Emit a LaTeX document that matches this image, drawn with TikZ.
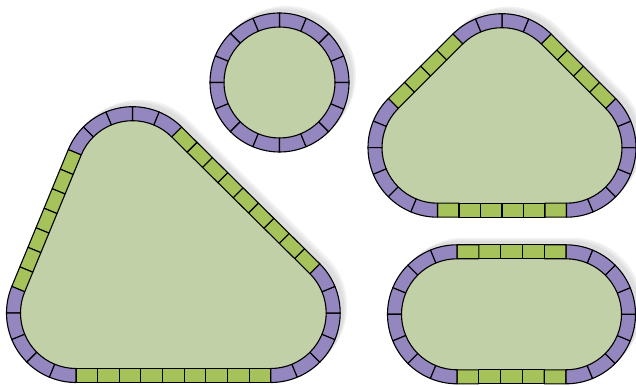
\documentclass[tikz,border=0pt]{standalone}
\usetikzlibrary{calc}

\definecolor{trackpurple}{RGB}{148,134,190}
\definecolor{trackgreen}{RGB}{166,194,90}
\definecolor{groundgreen}{RGB}{193,208,166}

% outer and inner radius of the rails
\def\outr{69.5}
\def\innr{55.5}

\tikzset{
  curvepiece/.style={fill=trackpurple, draw=black, line width=1.1pt, line join=round},
  straightpiece/.style={fill=trackgreen, draw=black, line width=1.1pt, line join=round},
  ground/.style={fill=groundgreen},
}

% curved pieces: center, start angle, number of pieces (22.5 deg each)
\newcommand{\trackbend}[3]{%
  \foreach \i in {1,...,#3}{
    \pgfmathsetmacro{\sa}{#2+22.5*(\i-1)}
    \pgfmathsetmacro{\ea}{#2+22.5*\i}
    \filldraw[curvepiece] ($(#1)+(\sa:\outr)$) arc[start angle=\sa, end angle=\ea, radius=\outr]
      -- ($(#1)+(\ea:\innr)$) arc[start angle=\ea, end angle=\sa, radius=\innr] -- cycle;
  }}

% straight pieces: from center, to center, normal angle, number of pieces
\newcommand{\trackrun}[4]{%
  \foreach \i in {1,...,#4}{
    \filldraw[straightpiece] ($(#1)!{(\i-1)/#4}!(#2)+(#3:\outr)$) -- ($(#1)!{\i/#4}!(#2)+(#3:\outr)$)
      -- ($(#1)!{\i/#4}!(#2)+(#3:\innr)$) -- ($(#1)!{(\i-1)/#4}!(#2)+(#3:\innr)$) -- cycle;
  }}

\begin{document}
\begin{tikzpicture}[x=1pt, y=1pt]
    \useasboundingbox (0,0) rectangle (636,385);

    % centers of the bends
    \coordinate (TL) at (76,72);
    \coordinate (TR) at (270.7,72);
    \coordinate (TT) at (132.5,208.8);
    \coordinate (CC) at (279.5,302.5);
    \coordinate (PL) at (437.5,237.3);
    \coordinate (PR) at (566.5,237.3);
    \coordinate (PT) at (502,301.8);
    \coordinate (OL) at (457,70.7);
    \coordinate (OR) at (566,70.7);

    % Shadows
    \foreach \d/\k in {7/5, 5.5/9, 4/13}{
      \begin{scope}[transform canvas={shift={(\d pt,\d pt)}}]
        \fill[black!\k] ($(TL)+(157.5:\outr)$) \foreach \ctr/\a/\b in {TL/157.5/270, TR/-90/45, TT/45/157.5}
          { -- ($(\ctr)+(\a:\outr)$) arc[start angle=\a, end angle=\b, radius=\outr]} -- cycle;
        \fill[black!\k] (CC) circle[radius=\outr];
        \fill[black!\k] ($(PL)+(135:\outr)$) \foreach \ctr/\a/\b in {PL/135/270, PR/-90/45, PT/45/135}
          { -- ($(\ctr)+(\a:\outr)$) arc[start angle=\a, end angle=\b, radius=\outr]} -- cycle;
        \fill[black!\k] ($(OL)+(90:\outr)$) \foreach \ctr/\a/\b in {OL/90/270, OR/-90/90}
          { -- ($(\ctr)+(\a:\outr)$) arc[start angle=\a, end angle=\b, radius=\outr]} -- cycle;
      \end{scope}
    }

    % Triangle loop
    \fill[ground] ($(TL)+(157.5:\innr)$) \foreach \ctr/\a/\b in {TL/157.5/270, TR/-90/45, TT/45/157.5}
      { -- ($(\ctr)+(\a:\innr)$) arc[start angle=\a, end angle=\b, radius=\innr]} -- cycle;
    \trackrun{TL}{TR}{-90}{9}
    \trackbend{TR}{-90}{6}
    \trackrun{TR}{TT}{45}{9}
    \trackbend{TT}{45}{5}
    \trackrun{TT}{TL}{157.5}{7}
    \trackbend{TL}{157.5}{5}

    % Circle
    \fill[ground] (CC) circle[radius=\innr];
    \trackbend{CC}{0}{16}

    % Rounded triangle
    \fill[ground] ($(PL)+(135:\innr)$) \foreach \ctr/\a/\b in {PL/135/270, PR/-90/45, PT/45/135}
      { -- ($(\ctr)+(\a:\innr)$) arc[start angle=\a, end angle=\b, radius=\innr]} -- cycle;
    \trackrun{PL}{PR}{-90}{6}
    \trackbend{PR}{-90}{6}
    \trackrun{PR}{PT}{45}{4}
    \trackbend{PT}{45}{4}
    \trackrun{PT}{PL}{135}{4}
    \trackbend{PL}{135}{6}

    % Oval
    \fill[ground] ($(OL)+(90:\innr)$) \foreach \ctr/\a/\b in {OL/90/270, OR/-90/90}
      { -- ($(\ctr)+(\a:\innr)$) arc[start angle=\a, end angle=\b, radius=\innr]} -- cycle;
    \trackrun{OL}{OR}{-90}{5}
    \trackbend{OR}{-90}{8}
    \trackrun{OR}{OL}{90}{5}
    \trackbend{OL}{90}{8}
\end{tikzpicture}
\end{document}
